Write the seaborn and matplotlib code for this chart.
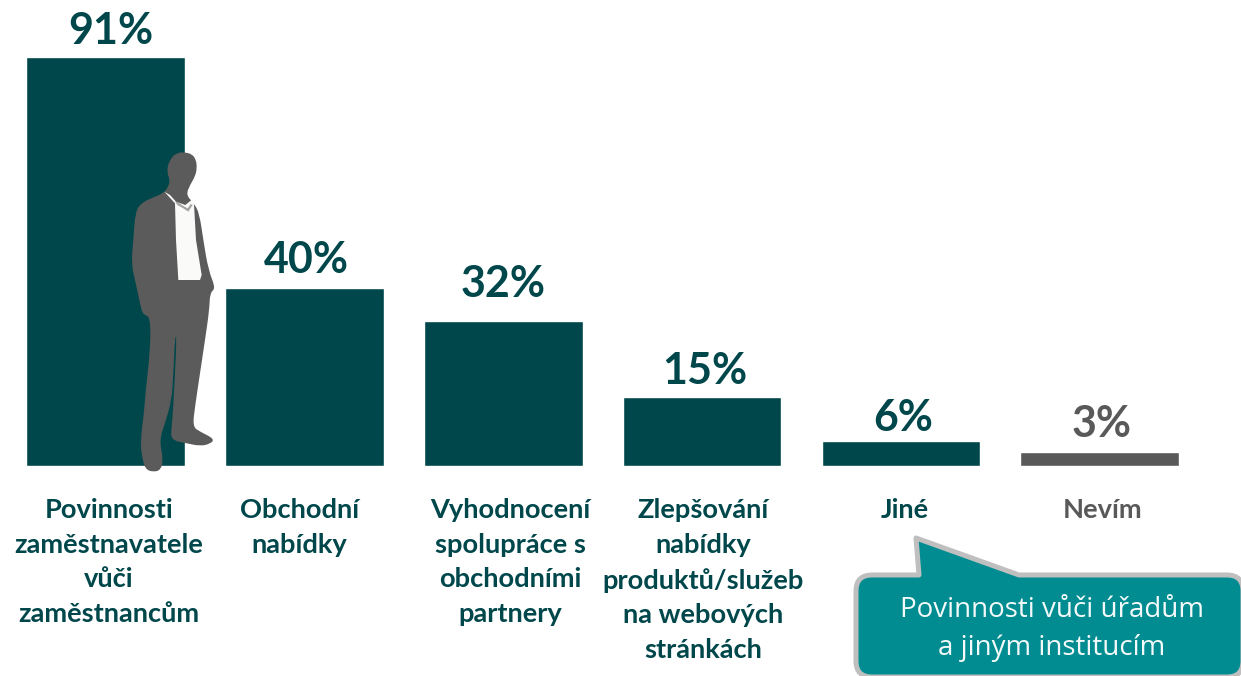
import matplotlib
matplotlib.use("Agg")
import matplotlib.pyplot as plt
import matplotlib.transforms as mtrans
from matplotlib.path import Path
from matplotlib.patches import PathPatch, Polygon
import seaborn as sns
import pandas as pd

categories = ["Povinnosti\nzaměstnavatele\nvůči\nzaměstnancům", "Obchodní\nnabídky",
              "Vyhodnocení\nspolupráce s\nobchodními\npartnery",
              "Zlepšování\nnabídky\nproduktů/služeb\nna webových\nstránkách", "Jiné", "Nevím"]
values = [91.0, 39.7, 32.3, 15.4, 5.6, 3.1]
bar_colors = ["#00474B", "#00474B", "#00474B", "#00474B", "#00474B", "#595959"]
callout_text = "Povinnosti vůči úřadům\na jiným institucím"

W, H = 1241, 676
DPI = 100
sns.set_theme(style="white")
plt.rcParams["font.family"] = ["Lato", "DejaVu Sans"]

fig = plt.figure(figsize=(W / DPI, H / DPI), dpi=DPI, facecolor="white")
BASE = 466
PER_UNIT = 409 / 91
SPACING = 198.8
X0 = 105.7
ax = fig.add_axes([0, (H - BASE) / H, 1, BASE / H])
df = pd.DataFrame({"cat": categories, "val": values})
sns.barplot(data=df, x="cat", y="val", hue="cat", palette=bar_colors, legend=False,
            width=158.6 / SPACING, saturation=1, ax=ax, zorder=1)
ax.set_xlim(-X0 / SPACING, (W - X0) / SPACING)
ax.set_ylim(0, BASE / PER_UNIT)
ax.set_xlabel("")
ax.set_ylabel("")
ax.set_yticks([])
sns.despine(ax=ax, left=True, bottom=True, top=True, right=True)
ax.patch.set_alpha(0)

# category labels, nudged as in the reference
label_dx = [3, -5, 7, 1, 4, 3]
ax.tick_params(axis="x", length=0, pad=23)
ax.set_xticks(range(len(categories)))
ax.set_xticklabels(categories, fontsize=19.6, fontweight="bold", linespacing=1.535)
for lab, col, dx in zip(ax.get_xticklabels(), bar_colors, label_dx):
    lab.set_color(col)
    lab.set_verticalalignment("top")
    lab.set_transform(lab.get_transform() + mtrans.ScaledTranslation(dx / DPI, 0, fig.dpi_scale_trans))

# value labels
value_dx = [5, 2, 0, 3, 2, 2]
value_dy = [30, 31, 40, 29, 26, 32]
for i, v in enumerate(values):
    ax.annotate(f"{v:.0f}%", (i, v), xytext=(value_dx[i] * 72 / DPI, value_dy[i] * 72 / DPI),
                textcoords="offset points", ha="center", va="center_baseline",
                fontsize=31, fontweight="bold", color=bar_colors[i], annotation_clip=False, zorder=5)

# decoration layer in pixel coordinates
ov = fig.add_axes([0, 0, 1, 1], zorder=3)
ov.set_xlim(0, W)
ov.set_ylim(H, 0)
ov.axis("off")
ov.patch.set_alpha(0)

def z(points):
    return [(120 + x / 3, 140 + y / 3) for x, y in points]

def smooth(points):
    n = len(points)
    mid = lambda a, b: ((a[0] + b[0]) / 2, (a[1] + b[1]) / 2)
    v = [mid(points[-1], points[0])]
    c = [Path.MOVETO]
    for i in range(n):
        v += [points[i], mid(points[i], points[(i + 1) % n])]
        c += [Path.CURVE3, Path.CURVE3]
    return Path(v, c)

man = z([(195, 37), (215, 42), (228, 58), (231, 85), (225, 110), (210, 135), (198, 165), (222, 190),
         (238, 220), (250, 300), (265, 390), (287, 445), (270, 458), (268, 510), (255, 600), (240, 700),
         (225, 800), (218, 860), (240, 875), (284, 897), (270, 912), (240, 918), (200, 910), (152, 900),
         (155, 860), (160, 800), (165, 700), (170, 590), (165, 590), (160, 700), (155, 780), (135, 850),
         (118, 900), (130, 960), (122, 990), (100, 996), (76, 988), (66, 950), (61, 905), (72, 820),
         (78, 740), (90, 640), (92, 530), (68, 524), (60, 490), (45, 420), (34, 370), (40, 300),
         (46, 215), (65, 188), (100, 172), (130, 160), (145, 140), (150, 120), (140, 95), (148, 60), (170, 38)])
ov.add_patch(PathPatch(smooth(man), fc="#5B5B5B", ec="none", zorder=2))
shirt = z([(133, 155), (150, 165), (168, 185), (196, 195), (217, 178), (222, 192), (228, 300),
           (245, 405), (240, 420), (175, 420), (168, 300), (165, 190)])
ov.add_patch(Polygon(shirt, closed=True, fc="#FAFAF8", ec="none", zorder=3))
collar = z([(165, 183), (172, 195), (190, 205), (205, 215), (218, 195), (212, 192), (203, 205), (190, 198), (175, 188)])
ov.add_patch(Polygon(collar, closed=True, fc="#6A6A6A", ec="none", alpha=0.6, zorder=4))

L, T, R, B, r = 856, 575, 1243, 677, 16
verts = [(L + r, T), (L + 63, T), (916, 538), (1019, T), (R - r, T), (R, T), (R, T + r), (R, B - r), (R, B), (R - r, B),
         (L + r, B), (L, B), (L, B - r), (L, T + r), (L, T), (L + r, T), (L + r, T)]
codes = [Path.MOVETO, Path.LINETO, Path.LINETO, Path.LINETO, Path.LINETO, Path.CURVE3, Path.CURVE3, Path.LINETO,
         Path.CURVE3, Path.CURVE3, Path.LINETO, Path.CURVE3, Path.CURVE3, Path.LINETO, Path.CURVE3, Path.CURVE3,
         Path.CLOSEPOLY]
ov.add_patch(PathPatch(Path(verts, codes), fc="#008C91", ec="#BFBFBF", lw=3.6, joinstyle="round", zorder=2))
ov.text(1052, 629, callout_text, ha="center", va="center", color="#F4FAFA", fontsize=20,
        family=["Open Sans", "DejaVu Sans"], linespacing=1.48, zorder=5)

fig.savefig("out.png", dpi=DPI, facecolor="white")
